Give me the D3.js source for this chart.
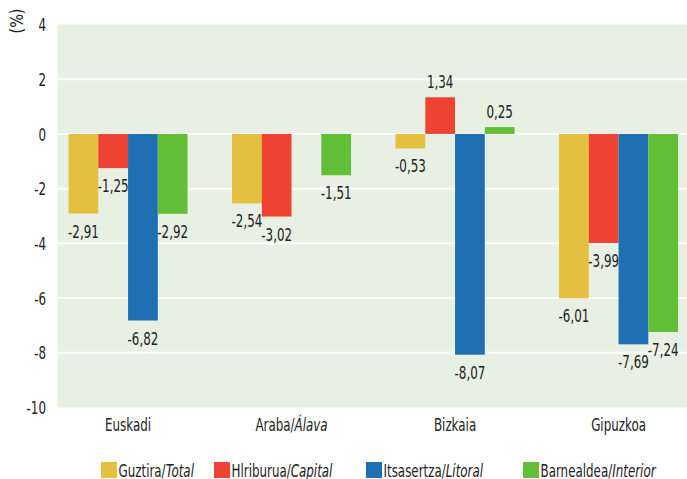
<!DOCTYPE html>
<html>
<head>
<meta charset="utf-8">
<script src="https://cdn.jsdelivr.net/npm/d3@7"></script>
<style>
  html, body { margin: 0; padding: 0; background: #fff; }
  svg { display: block; }
  text { font-family: "DejaVu Sans", sans-serif; fill: #222; }
</style>
</head>
<body>
<svg id="chart" width="687" height="479"></svg>
<script>
const categories = ["Euskadi", "Araba/Álava", "Bizkaia", "Gipuzkoa"];
const categoryItalic = [null, "Álava", null, null];
const seriesNames = ["Guztira/Total", "Hlriburua/Capital", "Itsasertza/Litoral", "Barnealdea/Interior"];
const seriesBase = ["Guztira/", "Hlriburua/", "Itsasertza/", "Barnealdea/"];
const seriesItalic = ["Total", "Capital", "Litoral", "Interior"];
const seriesColors = ["#E3C03F", "#EE4332", "#1F70B2", "#61BF38"];
const totalValues    = [-2.91, -2.54, -0.53, -6.01];
const capitalValues  = [-1.25, -3.02, 1.34, -3.99];
const litoralValues  = [-6.82, null, -8.07, -7.69];
const interiorValues = [-2.92, -1.51, 0.25, -7.24];
const yTicks = [4, 2, 0, -2, -4, -6, -8, -10];
const yDomain = [-10, 4];

const series = [totalValues, capitalValues, litoralValues, interiorValues];

const FS = 17;      // font size
const SX = 0.70;    // horizontal condensing to mimic the condensed face
const place = (x, y) => `translate(${x},${y}) scale(${SX},1)`;

const svg = d3.select("#chart");
const plot = { left: 57.5, right: 687, top: 24.5, bottom: 407.5 };

const y = d3.scaleLinear().domain(yDomain).range([plot.bottom, plot.top]);
const x0 = d3.scaleBand().domain(categories).range([46.3, 700.3]).paddingInner(0).paddingOuter(0);
const groupWidth = 119;
const x1 = d3.scaleBand().domain(d3.range(series.length)).range([0, groupWidth]);

// background
svg.append("rect")
  .attr("x", plot.left).attr("y", plot.top)
  .attr("width", plot.right - plot.left).attr("height", plot.bottom - plot.top)
  .attr("fill", "#E8F0E3");

// gridlines
svg.append("g").selectAll("line")
  .data(yTicks.filter(t => t !== 4 && t !== -10))
  .join("line")
  .attr("x1", plot.left).attr("x2", plot.right)
  .attr("y1", d => y(d)).attr("y2", d => y(d))
  .attr("stroke", "#fff").attr("stroke-width", 2);

// y axis labels
const yAxis = d3.axisLeft(y).tickValues(yTicks).tickSize(0).tickPadding(0)
  .tickFormat(d => String(d).replace("−", "-"));
const ya = svg.append("g").attr("transform", "translate(46,0)").call(yAxis);
ya.select(".domain").remove();
ya.selectAll(".tick text")
  .attr("font-size", FS).attr("fill", "#222")
  .attr("font-family", '"DejaVu Sans", sans-serif')
  .attr("x", null).attr("dy", "0.36em")
  .attr("transform", `scale(${SX},1)`);

// unit label
svg.append("text")
  .attr("transform", "translate(23,21) rotate(-90) scale(0.85,1)")
  .attr("text-anchor", "middle")
  .attr("font-size", FS)
  .text("(%)");

// bars
const fmt = v => d3.format(".2f")(v).replace(".", ",").replace("−", "-");
const bars = [];
categories.forEach((c, ci) => {
  series.forEach((s, si) => {
    if (s[ci] === null || s[ci] === undefined) return;
    bars.push({ c, si, v: s[ci] });
  });
});
const gx = c => x0(c) + (x0.bandwidth() - groupWidth) / 2;

svg.append("g").selectAll("rect")
  .data(bars)
  .join("rect")
  .attr("x", d => gx(d.c) + x1(d.si))
  .attr("width", x1.bandwidth())
  .attr("y", d => Math.min(y(d.v), y(0)))
  .attr("height", d => Math.abs(y(d.v) - y(0)))
  .attr("fill", d => seriesColors[d.si]);

// value labels
svg.append("g").selectAll("text")
  .data(bars)
  .join("text")
  .attr("transform", d => place(
    gx(d.c) + x1(d.si) + x1.bandwidth() / 2,
    d.v < 0 ? y(d.v) + 24 : y(d.v) - 9))
  .attr("text-anchor", "middle")
  .attr("font-size", FS)
  .text(d => fmt(d.v));

// x labels
const xl = svg.append("g").selectAll("text")
  .data(categories)
  .join("text")
  .attr("transform", c => place(x0(c) + x0.bandwidth() / 2, 431))
  .attr("text-anchor", "middle")
  .attr("font-size", FS);
xl.each(function(c, i) {
  const t = d3.select(this);
  if (categoryItalic[i]) {
    const base = c.slice(0, c.length - categoryItalic[i].length);
    t.append("tspan").text(base);
    t.append("tspan").attr("font-style", "italic").text(categoryItalic[i]);
  } else {
    t.text(c);
  }
});

// legend
const legendX = [101, 214, 366, 523];
const lg = svg.append("g");
seriesNames.forEach((n, i) => {
  lg.append("rect").attr("x", legendX[i]).attr("y", 462).attr("width", 16).attr("height", 16)
    .attr("fill", seriesColors[i]);
  const t = lg.append("text").attr("transform", place(legendX[i] + 17.5, 476.5)).attr("font-size", FS);
  t.append("tspan").text(seriesBase[i]);
  t.append("tspan").attr("font-style", "italic").text(seriesItalic[i]);
});
</script>
</body>
</html>
